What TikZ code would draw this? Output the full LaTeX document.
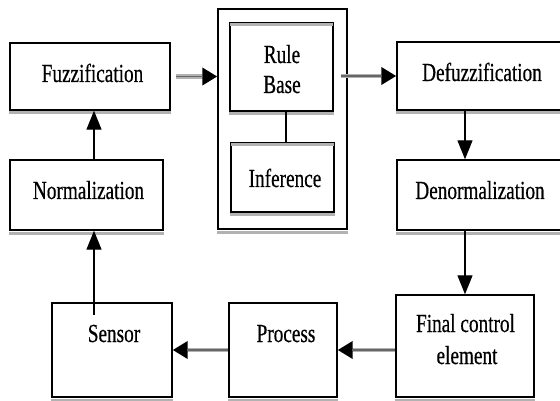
\documentclass[tikz,border=0pt]{standalone}
\usepackage{fontspec}
\setmainfont{Liberation Serif}
\newfontfamily\lblfont{Liberation Serif}[FakeBold=0.6]
\usepackage{graphicx}
\usetikzlibrary{arrows.meta}
\newcommand\sx[1]{\scalebox{0.74}[1]{#1}}
\begin{document}
\begin{tikzpicture}[x=1pt,y=-1pt,
  box/.style={draw=black, line width=1.4pt, fill=white, inner sep=0pt},
  lbl/.style={inner sep=0pt, anchor=base, font=\lblfont\fontsize{26}{31}\selectfont},
  varrow/.style={line width=1.3pt, -{Triangle[length=19pt,width=15pt]}},
  harrow/.style={line width=4.5pt, draw=gray!60, -{Triangle[length=15pt,width=17pt,color=black,fill=black]}},
  hcore/.style={line width=1.2pt, draw=black!60, shorten >=14pt},
  shadowband/.style={draw=gray!60, line width=3pt},
  topband/.style={draw=gray!60, line width=3pt, shorten <=0.7pt, shorten >=0.7pt}]
\useasboundingbox (0,0) rectangle (560,401);
\clip (0,0) rectangle (560,401);
\fill[white] (0,0) rectangle (560,401);

% boxes
\node[box, minimum width=160pt, minimum height=67pt] (fz) at (90,76.5) {};
\node[box, minimum width=153pt, minimum height=70pt] (nm) at (86.5,195) {};
\node[box, minimum width=129pt, minimum height=220pt] (outer) at (282.5,119) {};
\node[box, minimum width=103pt, minimum height=88pt] (rb) at (281.5,67) {};
\node[box, minimum width=103pt, minimum height=69pt] (inf) at (282.5,177.5) {};
\node[box, minimum width=171pt, minimum height=68pt] (df) at (482.5,76) {};
\node[box, minimum width=171pt, minimum height=70pt] (dn) at (482.5,195) {};
\node[box, minimum width=138pt, minimum height=102pt] (fc) at (465,346) {};
\node[box, minimum width=108pt, minimum height=94pt] (pr) at (283,350) {};
\node[box, minimum width=120pt, minimum height=94pt] (sn) at (112,350) {};

% gray bands
\foreach \b in {fz,nm,outer,rb,inf,df,dn,fc,pr,sn}
  \draw[shadowband] ([yshift=-2.3pt]\b.south west) -- ([yshift=-2.3pt]\b.south east);
\draw[topband] ([yshift=-2.4pt]rb.north west) -- ([yshift=-2.4pt]rb.north east);
\draw[topband] ([yshift=-2.4pt]inf.north west) -- ([yshift=-2.4pt]inf.north east);

% labels
\node[lbl] (fzt) at (92.5,82) {\sx{Fuzzification}};
\node[lbl] (nmt) at (88.5,199) {\sx{Normalization}};
\node[lbl] (rbt1) at (282,63) {\sx{Rule}};
\node[lbl] (rbt2) at (282,93) {\sx{Base}};
\node[lbl] (inft) at (285,187) {\sx{Inference}};
\node[lbl] (dft) at (482,81) {\sx{Defuzzification}};
\node[lbl] (dnt) at (480,199) {\sx{Denormalization}};
\node[lbl] (fct1) at (465.5,332) {\sx{Final control}};
\node[lbl] (fct2) at (467,364) {\sx{element}};
\node[lbl] (prt) at (286,342) {\sx{Process}};
\node[lbl] (snt) at (114,342) {\sx{Sensor}};

% connectors
\coordinate (snl) at (94,315);
\draw[line width=1.3pt] ([xshift=4.5pt]rb.south) -- ([xshift=4.5pt]rb.south |- inf.north);

\draw[harrow] ([xshift=5pt]fz.east) -- (fz.east -| outer.west);
\draw[hcore] ([xshift=5pt]fz.east) -- (fz.east -| outer.west);
\draw[harrow] ([xshift=-7pt]outer.east |- df.west) -- (df.west);
\draw[hcore] ([xshift=-7pt]outer.east |- df.west) -- (df.west);
\draw[harrow] (fc.west |- pr.east) -- (pr.east);
\draw[hcore] (fc.west |- pr.east) -- (pr.east);
\draw[harrow] (pr.west) -- (sn.east);
\draw[hcore] (pr.west) -- (sn.east);

\draw[varrow] (df.south -| fc.north) -- (dn.north -| fc.north);
\draw[varrow] (dn.south -| fc.north) -- (fc.north);
\draw[varrow] (snl) -- (snl |- nm.south);
\draw[varrow] (nm.north -| snl) -- (fz.south -| snl);
\end{tikzpicture}
\end{document}
